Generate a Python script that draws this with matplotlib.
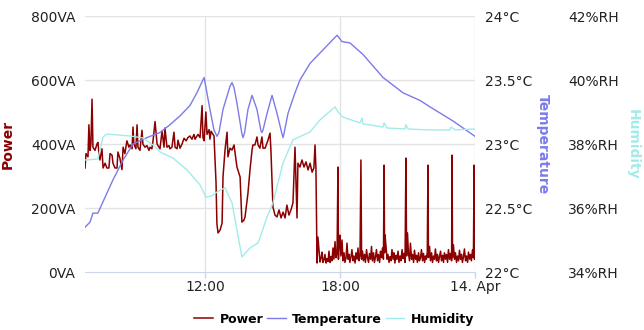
import matplotlib
matplotlib.use("Agg")
from matplotlib import pyplot as plt

# time in decimal hours of 13. Apr (24 = 14. Apr 00:00)
power_t = [6.67, 6.71, 6.80, 6.84, 6.89, 6.93, 6.98, 7.02, 7.11, 7.20, 7.24, 7.29, 7.33, 7.42, 7.47,
           7.56, 7.64, 7.73, 7.78, 7.87, 7.91, 8.00, 8.09, 8.13, 8.22, 8.31, 8.36, 8.44, 8.53, 8.62,
           8.67, 8.76, 8.80, 8.84, 8.93, 8.98, 9.02, 9.11, 9.20, 9.24, 9.33, 9.42, 9.51, 9.56, 9.64,
           9.69, 9.78, 9.87, 9.91, 10.00, 10.09, 10.18, 10.22, 10.31, 10.40, 10.44, 10.53, 10.62, 10.67, 10.76,
           10.80, 10.89, 10.98, 11.07, 11.16, 11.24, 11.33, 11.42, 11.51, 11.56, 11.60, 11.69, 11.78, 11.87, 11.91,
           11.96, 12.04, 12.09, 12.18, 12.22, 12.27, 12.36, 12.40, 12.49, 12.53, 12.58, 12.67, 12.76, 12.80, 12.89,
           12.98, 13.02, 13.11, 13.20, 13.29, 13.42, 13.56, 13.64, 13.73, 13.78, 13.87, 13.91, 14.00, 14.09, 14.13,
           14.22, 14.31, 14.36, 14.44, 14.53, 14.58, 14.67, 14.80, 14.89, 14.93, 15.02, 15.11, 15.20, 15.29, 15.38,
           15.47, 15.56, 15.64, 15.73, 15.82, 15.91, 16.00, 16.09, 16.13, 16.22, 16.31, 16.40, 16.49, 16.58, 16.67,
           16.76, 16.84, 16.89, 16.93, 16.98, 17.02, 17.11, 17.16, 17.20, 17.24, 17.29, 17.33, 17.38, 17.42, 17.47,
           17.51, 17.56, 17.60, 17.64, 17.69, 17.73, 17.78, 17.82, 17.87, 17.91, 17.93, 17.96, 18.00, 18.04, 18.09,
           18.13, 18.18, 18.22, 18.27, 18.31, 18.36, 18.40, 18.44, 18.49, 18.53, 18.58, 18.62, 18.67, 18.71, 18.76,
           18.80, 18.84, 18.89, 18.93, 18.96, 19.00, 19.04, 19.09, 19.13, 19.18, 19.22, 19.27, 19.31, 19.36, 19.40,
           19.44, 19.49, 19.53, 19.58, 19.62, 19.67, 19.71, 19.76, 19.80, 19.84, 19.89, 19.93, 19.96, 19.98, 20.00,
           20.04, 20.09, 20.13, 20.18, 20.22, 20.27, 20.31, 20.36, 20.40, 20.44, 20.49, 20.53, 20.58, 20.62, 20.67,
           20.71, 20.76, 20.80, 20.84, 20.89, 20.93, 20.96, 21.00, 21.04, 21.09, 21.13, 21.18, 21.22, 21.27, 21.31,
           21.36, 21.40, 21.44, 21.49, 21.53, 21.58, 21.62, 21.67, 21.71, 21.76, 21.80, 21.84, 21.88, 21.91, 21.93,
           21.98, 22.02, 22.07, 22.11, 22.16, 22.20, 22.24, 22.29, 22.33, 22.38, 22.42, 22.47, 22.51, 22.56, 22.60,
           22.64, 22.69, 22.73, 22.78, 22.82, 22.87, 22.91, 22.96, 22.98, 23.00, 23.04, 23.09, 23.13, 23.18, 23.22,
           23.27, 23.31, 23.36, 23.40, 23.44, 23.49, 23.53, 23.58, 23.62, 23.67, 23.71, 23.76, 23.80, 23.84, 23.89,
           23.93, 23.96, 23.98, 24.00]
power_va = [325, 370, 360, 460, 380, 400, 540, 390, 380, 400, 405, 370, 350, 385, 325,
            340, 325, 325, 370, 365, 340, 325, 325, 375, 355, 320, 390, 370, 410, 390,
            397, 385, 453, 400, 385, 460, 390, 380, 443, 400, 390, 395, 380, 390, 385,
            410, 470, 400, 395, 385, 440, 390, 450, 390, 395, 385, 390, 437, 390, 385,
            412, 387, 400, 418, 410, 420, 425, 415, 430, 415, 420, 430, 420, 520, 420,
            410, 500, 430, 445, 415, 440, 430, 425, 280, 150, 122, 131, 153, 297, 381,
            437, 360, 387, 381, 397, 328, 297, 156, 162, 172, 225, 247, 319, 381, 397,
            397, 422, 397, 387, 422, 387, 387, 412, 434, 381, 203, 178, 172, 194, 169,
            187, 169, 209, 178, 194, 216, 390, 169, 340, 328, 350, 328, 344, 319, 340,
            312, 325, 397, 325, 28, 109, 31, 45, 62, 30, 38, 55, 28, 42, 33,
            65, 30, 48, 35, 75, 40, 95, 45, 60, 328, 40, 91, 115, 50, 100,
            35, 60, 30, 45, 90, 40, 55, 30, 48, 70, 35, 50, 28, 60, 40,
            75, 35, 50, 350, 40, 65, 35, 55, 30, 70, 45, 30, 58, 40, 80,
            35, 60, 30, 48, 70, 35, 55, 30, 65, 45, 75, 40, 334, 60, 116,
            85, 40, 55, 30, 48, 35, 70, 40, 60, 28, 52, 40, 65, 30, 50,
            35, 70, 42, 58, 30, 356, 50, 122, 60, 35, 90, 40, 55, 30, 68,
            40, 52, 30, 60, 35, 45, 70, 35, 58, 30, 50, 40, 62, 334, 45,
            80, 35, 60, 30, 50, 40, 72, 35, 55, 30, 48, 65, 35, 52, 30,
            60, 40, 55, 30, 70, 40, 58, 35, 365, 45, 85, 40, 60, 30, 50,
            35, 68, 40, 55, 30, 48, 72, 35, 50, 30, 62, 40, 55, 35, 70,
            45, 334, 40, 60]

temp_t = [6.67, 6.89, 7.02, 7.24, 7.47, 7.91, 8.36, 8.80, 9.42, 10.0, 10.44, 10.89, 11.33, 11.64, 11.96,
          12.22, 12.40, 12.53, 12.62, 12.80, 13.11, 13.20, 13.29, 13.42, 13.64, 13.69, 13.76, 13.91, 14.09, 14.31,
          14.49, 14.53, 14.58, 14.76, 14.98, 15.20, 15.42, 15.47, 15.51, 15.69, 16.00, 16.22, 16.67, 17.87, 18.09,
          18.44, 19.02, 19.91, 20.80, 21.56, 22.0, 23.02, 23.47, 24.0]
temp_c = [22.35, 22.39, 22.46, 22.46, 22.55, 22.72, 22.875, 23.0, 23.05, 23.09, 23.15, 23.22, 23.30, 23.40, 23.52,
          23.27, 23.11, 23.06, 23.09, 23.27, 23.45, 23.48, 23.44, 23.32, 23.08, 23.05, 23.09, 23.27, 23.38, 23.27,
          23.10, 23.09, 23.11, 23.24, 23.38, 23.24, 23.08, 23.05, 23.08, 23.24, 23.40, 23.50, 23.63, 23.85, 23.80,
          23.79, 23.70, 23.52, 23.40, 23.34, 23.29, 23.18, 23.125, 23.06]

hum_t = [6.67, 7.24, 7.47, 7.64, 8.67, 9.24, 9.69, 10.0, 10.58, 11.2, 11.78, 12.04, 12.31, 12.53, 12.89,
         13.2, 13.64, 14.0, 14.36, 14.76, 15.02, 15.47, 15.91, 16.67, 17.11, 17.78, 17.91, 18.13, 18.89, 18.98,
         19.02, 19.91, 19.96, 20.09, 20.89, 20.93, 21.02, 21.89, 22.89, 22.93, 23.13, 24.0]
hum_rh = [37.5, 37.53, 38.22, 38.31, 38.25, 38.19, 37.97, 37.75, 37.56, 37.19, 36.72, 36.34, 36.38, 36.5, 36.63,
          36.16, 34.47, 34.75, 34.91, 35.72, 36.16, 37.41, 38.13, 38.38, 38.75, 39.16, 39.0, 38.84, 38.66, 38.81,
          38.63, 38.53, 38.66, 38.5, 38.47, 38.6, 38.47, 38.44, 38.44, 38.53, 38.44, 38.47]

power_ticks = [0, 200, 400, 600, 800]
temp_ticks = [22, 22.5, 23, 23.5, 24]
hum_ticks = [34, 36, 38, 40, 42]
x_ticks = [12, 18, 24]
x_labels = ["12:00", "18:00", "14. Apr"]

c_power = "#8b0000"
c_temp = "#7b7bea"
c_hum = "#a3ebeb"
c_grid = "#e3e3e3"
c_axis = "#ccd6eb"

fig = plt.figure(figsize=(6.44, 3.30), dpi=100)
ax = fig.add_axes([85/644, 58/330, 390/644, 256/330])
ax2 = ax.twinx()
ax3 = ax.twinx()

lp, = ax.plot(power_t, power_va, color=c_power, lw=1.1)
lt, = ax2.plot(temp_t, temp_c, color=c_temp, lw=1.0)
lh, = ax3.plot(hum_t, hum_rh, color=c_hum, lw=1.0)

ax.set_xlim(6.667, 24)
ax.set_ylim(0, 800)
ax2.set_ylim(22, 24)
ax3.set_ylim(34, 42)

for a in (ax, ax2, ax3):
    for s in a.spines.values():
        s.set_visible(False)
ax.spines["bottom"].set_visible(True)
ax.spines["bottom"].set_color(c_axis)

for v in power_ticks[1:]:
    ax.axhline(v, color=c_grid, lw=1, zorder=0)
for v in x_ticks:
    ax.axvline(v, color=c_grid, lw=1, zorder=0)

ax.set_yticks(power_ticks)
ax.set_yticklabels([f"{v}VA" for v in power_ticks])
ax2.set_yticks(temp_ticks)
ax2.set_yticklabels([f"{v:g}°C" for v in temp_ticks])
ax3.set_yticks(hum_ticks)
ax3.set_yticklabels([f"{v}%RH" for v in hum_ticks])
ax.set_xticks(x_ticks)
ax.set_xticklabels(x_labels)

ax.tick_params(axis="y", length=0, pad=7, labelsize=10, colors="#222222")
ax.tick_params(axis="x", length=4, width=1, color=c_axis, pad=2, labelsize=10, labelcolor="#222222")
ax2.tick_params(axis="y", length=0, pad=7, labelsize=10, colors="#222222")
ax3.tick_params(axis="y", length=0, pad=67, labelsize=10, colors="#222222")

ax.set_ylabel("Power", color=c_power, fontweight="bold", fontsize=10)
ax.yaxis.set_label_coords(-0.18, 0.5)
ax2.set_ylabel("Temperature", color=c_temp, fontweight="bold", fontsize=10, rotation=270, va="center")
ax2.yaxis.set_label_coords(1.174, 0.5)
ax3.set_ylabel("Humidity", color=c_hum, fontweight="bold", fontsize=10, rotation=270, va="center")
ax3.yaxis.set_label_coords(1.405, 0.5)

fig.legend([lp, lt, lh], ["Power", "Temperature", "Humidity"], loc="center",
           bbox_to_anchor=(0.519, 0.033), ncol=3, frameon=False,
           prop={"weight": "bold", "size": 9}, handlelength=1.5,
           columnspacing=0.3, handletextpad=0.5)

fig.savefig("out.png", dpi=100)
